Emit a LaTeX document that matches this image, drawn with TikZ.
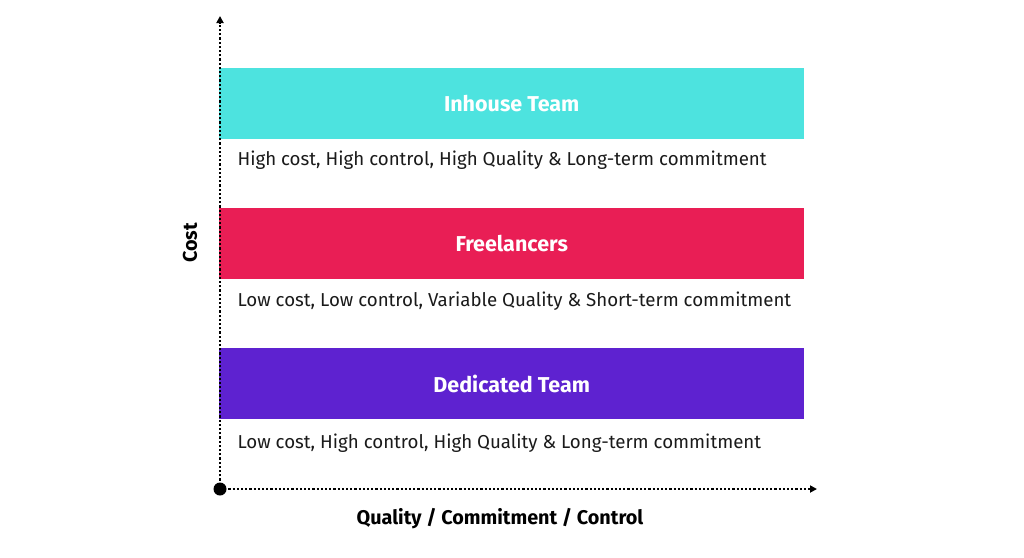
\documentclass[tikz,border=0pt]{standalone}
\usepackage{fontspec}
\setmainfont{Fira Sans}
\usetikzlibrary{arrows.meta}
\definecolor{cyanb}{HTML}{4DE3DF}
\definecolor{redb}{HTML}{E91E55}
\definecolor{purb}{HTML}{5E22D0}
\definecolor{txt}{HTML}{1A1A1A}
\begin{document}
\begin{tikzpicture}[x=1pt,y=-1pt,
  bar/.style={minimum width=585pt,minimum height=71pt,inner sep=0,anchor=north west,text=white,font=\fontsize{21.5}{24}\selectfont\bfseries},
  desc/.style={anchor=west,text=txt,font=\fontsize{18.7}{22}\selectfont},
  axis/.style={line width=2.2pt,dotted,-{Triangle[width=7pt,length=7pt]}},
  lab/.style={font=\fontsize{19.8}{23}\selectfont\bfseries}]
\useasboundingbox (0,0) rectangle (1024,557);
\node[bar,fill=cyanb] (b1) at (219,68) {Inhouse Team};
\node[bar,fill=redb] (b2) at (219,208) {Freelancers};
\node[bar,fill=purb] (b3) at (219,348) {Dedicated Team};
\node[desc] (d1) at (234,160) {High cost, High control, High Quality \& Long-term commitment};
\node[desc] (d2) at (234,301) {Low cost, Low control, Variable Quality \& Short-term commitment};
\node[desc] (d3) at (234,443) {Low cost, High control, High Quality \& Long-term commitment};
\coordinate (o) at (220,489);
\coordinate (ytop) at (220,16);
\coordinate (xend) at (817,489);
\draw[axis] (o) -- (ytop);
\draw[axis] (o) -- (xend);
\fill (o) circle (6.5pt);
\node[lab,rotate=90] (cost) at (190,243) {Cost};
\node[lab] (xl) at (500,519) {Quality / Commitment / Control};
\end{tikzpicture}
\end{document}
